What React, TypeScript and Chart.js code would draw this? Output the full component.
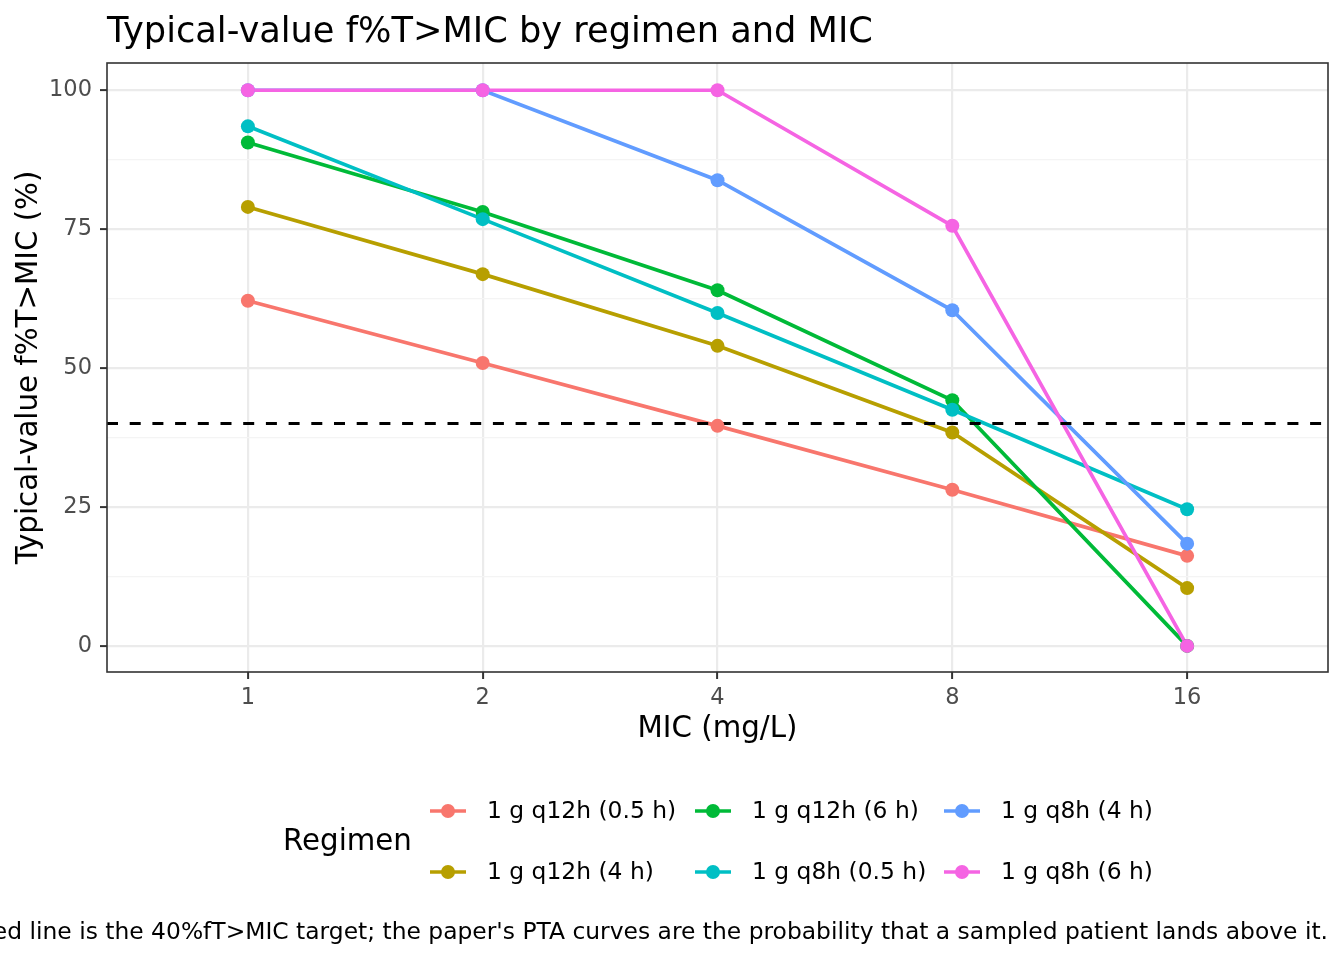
import React, { useEffect, useRef } from 'react';
import { Chart, registerables } from 'chart.js';

Chart.register(...registerables);

// Data
const micLabels = ['1', '2', '4', '8', '16'];
const regimens = [
  '1 g q12h (0.5 h)',
  '1 g q12h (4 h)',
  '1 g q12h (6 h)',
  '1 g q8h (0.5 h)',
  '1 g q8h (4 h)',
  '1 g q8h (6 h)',
];
const regimenColors = ['#F8766D', '#B79F00', '#00BA38', '#00BFC4', '#619CFF', '#F564E3'];

const q12h05 = [62.1, 50.9, 39.6, 28.1, 16.2];
const q12h4 = [79.0, 66.9, 54.0, 38.4, 10.4];
const q12h6 = [90.6, 78.1, 64.0, 44.2, 0];
const q8h05 = [93.5, 76.8, 59.9, 42.5, 24.6];
const q8h4 = [100, 100, 83.8, 60.4, 18.4];
const q8h6 = [100, 100, 100, 75.6, 0];
const seriesValues = [q12h05, q12h4, q12h6, q8h05, q8h4, q8h6];

const targetLine = 40;
const yTicks = [0, 12.5, 25, 37.5, 50, 62.5, 75, 87.5, 100];

const titleText = 'Typical-value f%T>MIC by regimen and MIC';
const xTitle = 'MIC (mg/L)';
const yTitle = 'Typical-value f%T>MIC (%)';
const legendTitle = 'Regimen';
const captionText =
  "Dashed line is the 40%fT>MIC target; the paper's PTA curves are the probability that a sampled patient lands above it.";

const FONT = '"DejaVu Sans", Verdana, sans-serif';

// Draws title, axis titles, panel border, legend and caption
const decorations = {
  id: 'decorations',
  afterDraw(chart: Chart) {
    const { ctx, chartArea } = chart;
    const { left, right, top, bottom } = chartArea;
    ctx.save();

    // panel border
    ctx.strokeStyle = '#333333';
    ctx.lineWidth = 1.6;
    ctx.strokeRect(left, top, right - left, bottom - top);

    ctx.fillStyle = '#000000';
    ctx.textBaseline = 'alphabetic';

    // title
    ctx.font = `35.2px ${FONT}`;
    ctx.textAlign = 'left';
    ctx.fillText(titleText, left, 42);

    // axis titles
    ctx.font = `29.3px ${FONT}`;
    ctx.textAlign = 'center';
    ctx.fillText(xTitle, (left + right) / 2, 737);

    ctx.save();
    ctx.translate(37, (top + bottom) / 2);
    ctx.rotate(-Math.PI / 2);
    ctx.fillText(yTitle, 0, 0);
    ctx.restore();

    // legend
    ctx.textAlign = 'left';
    ctx.textBaseline = 'middle';
    ctx.font = `29.3px ${FONT}`;
    ctx.fillText(legendTitle, 283, 842);

    const colX = [448, 713, 962];
    const rowY = [811, 872];
    ctx.font = `23.4px ${FONT}`;
    regimens.forEach((name, i) => {
      const cx = colX[Math.floor(i / 2)];
      const cy = rowY[i % 2];
      ctx.strokeStyle = regimenColors[i];
      ctx.lineWidth = 3.7;
      ctx.beginPath();
      ctx.moveTo(cx - 18, cy);
      ctx.lineTo(cx + 18, cy);
      ctx.stroke();
      ctx.fillStyle = regimenColors[i];
      ctx.beginPath();
      ctx.arc(cx, cy, 7, 0, Math.PI * 2);
      ctx.fill();
      ctx.fillStyle = '#000000';
      ctx.fillText(name, cx + 39, cy + 1);
    });

    // caption, right aligned to the panel
    ctx.textAlign = 'right';
    ctx.font = `23.4px ${FONT}`;
    ctx.fillText(captionText, right, 933);

    ctx.restore();
  },
};

const App: React.FC = () => {
  const canvasRef = useRef<HTMLCanvasElement | null>(null);

  useEffect(() => {
    document.body.style.margin = '0';
    if (!canvasRef.current) return;

    const lineSets = seriesValues.map((vals, i) => ({
      label: regimens[i],
      data: vals.map((v, j) => ({ x: j, y: v })),
      borderColor: regimenColors[i],
      backgroundColor: regimenColors[i],
      borderWidth: 3.7,
      pointRadius: 0,
      tension: 0,
      fill: false,
      order: 30 - i,
    }));

    const pointSets = seriesValues.map((vals, i) => ({
      label: regimens[i] + ' points',
      data: vals.map((v, j) => ({ x: j, y: v })),
      borderColor: regimenColors[i],
      backgroundColor: regimenColors[i],
      showLine: false,
      pointRadius: 7,
      pointBorderWidth: 0,
      order: 10 - i,
    }));

    const targetSet = {
      label: 'target',
      data: [
        { x: -0.6, y: targetLine },
        { x: 4.6, y: targetLine },
      ],
      borderColor: '#000000',
      borderWidth: 3,
      borderDash: [11, 11.7],
      pointRadius: 0,
      fill: false,
      order: 20,
    };

    const chart = new Chart(canvasRef.current, {
      type: 'line',
      data: { datasets: [...lineSets, targetSet, ...pointSets] as any },
      options: {
        animation: false,
        responsive: false,
        devicePixelRatio: 1,
        layout: { padding: { top: 63, right: 16, bottom: 0, left: 0 } },
        plugins: {
          legend: { display: false },
          tooltip: { enabled: false },
          title: { display: false },
        },
        scales: {
          x: {
            type: 'linear',
            min: -0.6,
            max: 4.6,
            afterFit: (scale: any) => {
              scale.height = 288;
            },
            afterBuildTicks: (scale: any) => {
              scale.ticks = micLabels.map((_, i) => ({ value: i }));
            },
            ticks: {
              autoSkip: false,
              maxRotation: 0,
              padding: 6,
              color: '#4d4d4d',
              font: { family: FONT, size: 22.5 },
              callback: (value: any) => micLabels[Number(value)] ?? '',
            },
            grid: {
              color: '#ebebeb',
              lineWidth: 2.2,
              tickLength: 7,
              tickColor: '#333333',
              tickWidth: 2,
            },
            border: { display: false },
          },
          y: {
            type: 'linear',
            min: -4.7,
            max: 104.9,
            afterFit: (scale: any) => {
              scale.width = 107;
            },
            afterBuildTicks: (scale: any) => {
              scale.ticks = yTicks.map((v) => ({ value: v }));
            },
            ticks: {
              autoSkip: false,
              padding: 8,
              color: '#4d4d4d',
              font: { family: FONT, size: 22.5 },
              callback: (value: any) => (Number(value) % 25 === 0 ? String(value) : ''),
            },
            grid: {
              color: (c: any) => (c.tick && c.tick.value % 25 === 0 ? '#ebebeb' : '#f4f4f4'),
              lineWidth: (c: any) => (c.tick && c.tick.value % 25 === 0 ? 2.2 : 1.2),
              tickLength: 7,
              tickColor: (c: any) =>
                c.tick && c.tick.value % 25 === 0 ? '#333333' : 'rgba(0,0,0,0)',
              tickWidth: 2,
            },
            border: { display: false },
          },
        },
      },
      plugins: [decorations],
    });

    return () => {
      chart.destroy();
    };
  }, []);

  return (
    <div style={{ width: 1344, height: 960, background: '#ffffff' }}>
      <canvas ref={canvasRef} width={1344} height={960}></canvas>
    </div>
  );
};

export default App;
